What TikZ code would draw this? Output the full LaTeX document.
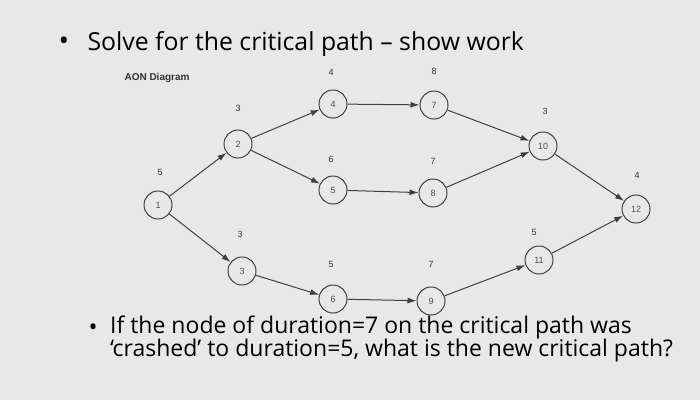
\documentclass[tikz,border=0pt]{standalone}
\usepackage{fontspec}
\setmainfont{Open Sans}
\newfontfamily\lab{Liberation Sans}
\usetikzlibrary{arrows.meta}
\begin{document}
\begin{tikzpicture}[x=1pt,y=-1pt,
  act/.style={circle,draw=black!75,line width=1pt,minimum size=28pt,inner sep=0pt,font=\lab\fontsize{9}{10}\selectfont,text=black!70},
  dur/.style={font=\lab\fontsize{9}{10}\selectfont,text=black!80},
  arr/.style={-{Latex[length=9pt,width=6pt]},line width=1pt,draw=black!75}]
\fill[black!9] (0,0) rectangle (700,400);
\useasboundingbox (0,0) rectangle (700,400);
\node[font=\fontsize{28}{32}\selectfont,anchor=west] (b1) at (55,44) {•};
\node[font=\fontsize{24.8}{30}\selectfont,anchor=west] (t1) at (84,44) {Solve for the critical path – show work};
\node[font=\lab\bfseries\fontsize{10}{12}\selectfont,anchor=west,text=black!80] (aon) at (121,78) {AON Diagram};
\node[act] (n1) at (158,205) {1};
\node[act] (n2) at (238,144) {2};
\node[act] (n4) at (333,104) {4};
\node[act] (n7) at (434,105) {7};
\node[act] (n10) at (543,146) {10};
\node[act] (n5) at (333,190) {5};
\node[act] (n8) at (433,193) {8};
\node[act] (n12) at (636,209) {12};
\node[act] (n3) at (242,271) {3};
\node[act] (n6) at (333,299) {6};
\node[act] (n9) at (431,301) {9};
\node[act] (n11) at (539,260) {11};
\node[dur] (d1) at (160,172) {5};
\node[dur] (d2) at (238,108) {3};
\node[dur] (d4) at (331,72) {4};
\node[dur] (d7) at (434,71) {8};
\node[dur] (d10) at (545,111) {3};
\node[dur] (d5) at (331,159) {6};
\node[dur] (d8) at (433,161) {7};
\node[dur] (d12) at (637,175) {4};
\node[dur] (d3) at (240,234) {3};
\node[dur] (d6) at (331,264) {5};
\node[dur] (d9) at (431,264) {7};
\node[dur] (d11) at (534,232) {5};
\draw[arr] (n1) -- (n2);
\draw[arr] (n1) -- (n3);
\draw[arr] (n2) -- (n4);
\draw[arr] (n2) -- (n5);
\draw[arr] (n4) -- (n7);
\draw[arr] (n5) -- (n8);
\draw[arr] (n7) -- (n10);
\draw[arr] (n8) -- (n10);
\draw[arr] (n10) -- (n12);
\draw[arr] (n3) -- (n6);
\draw[arr] (n6) -- (n9);
\draw[arr] (n9) -- (n11);
\draw[arr] (n11) -- (n12);
\node[font=\fontsize{24}{28}\selectfont,anchor=west] (b2) at (85,330) {•};
\node[font=\fontsize{23}{23}\selectfont,anchor=north west,align=left,inner sep=0pt] (t2) at (110,316) {If the node of duration=7 on the critical path was\\‘crashed’ to duration=5, what is the new critical path?};
\end{tikzpicture}
\end{document}
